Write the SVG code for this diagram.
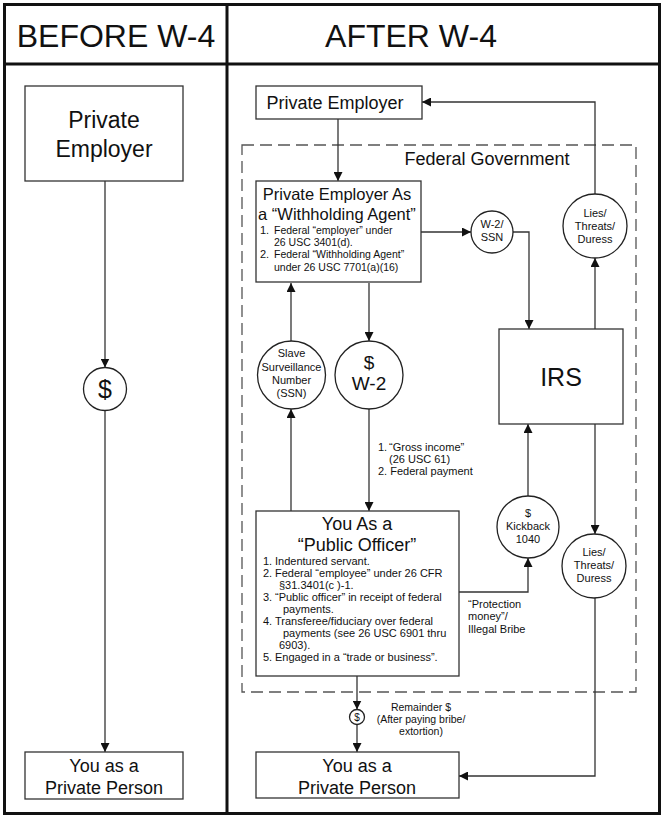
<svg xmlns="http://www.w3.org/2000/svg" width="664" height="819" viewBox="0 0 664 819">
<defs>
<marker id="ah" viewBox="0 0 10 10" refX="10" refY="5" markerWidth="9" markerHeight="9" markerUnits="userSpaceOnUse" orient="auto">
<path d="M0,0 L10,5 L0,10 z" fill="#111"/>
</marker>
</defs>
<style>
text{font-family:"Liberation Sans",Arial,sans-serif;fill:#111}
.hdr{font-size:32px;text-anchor:middle}
.big{font-size:23px;text-anchor:middle}
.t18{font-size:18px;text-anchor:middle}
.t17{font-size:16.5px;text-anchor:middle}
.sm{font-size:11px}
.smc{font-size:11px;text-anchor:middle}
.box{fill:#fff;stroke:#333;stroke-width:1.3}
.cir{fill:#fff;stroke:#222;stroke-width:1.3}
.ln{fill:none;stroke:#333;stroke-width:1.3}
.arr{fill:none;stroke:#333;stroke-width:1.3;marker-end:url(#ah)}
.frame{fill:none;stroke:#111;stroke-width:3}
.dash{fill:none;stroke:#555;stroke-width:1.3;stroke-dasharray:12 6}
</style>
<rect width="664" height="819" fill="#fff"/>
<g id="frame">
<rect class="frame" x="4.5" y="4.5" width="655" height="809"/>
<line class="frame" x1="4" y1="64" x2="660" y2="64"/>
<line class="frame" x1="227" y1="4" x2="227" y2="814"/>
<text class="hdr" x="116" y="47">BEFORE W-4</text>
<text class="hdr" x="411" y="47">AFTER W-4</text>
</g>
<g id="federal-government">
<rect class="dash" x="242" y="145" width="394" height="547"/>
<text class="t18" x="487" y="165">Federal Government</text>
</g>
<g id="connectors">
<line class="ln" x1="105" y1="181" x2="105" y2="358"/>
<line class="arr" x1="105" y1="358" x2="105" y2="367.5"/>
<line class="arr" x1="105" y1="410.5" x2="105" y2="752"/>
<line class="arr" x1="338" y1="119" x2="338" y2="181"/>
<polyline class="arr" points="595,194 595,102 422,102"/>
<line class="arr" x1="421" y1="232" x2="471" y2="232"/>
<polyline class="arr" points="513,232 529,232 529,329"/>
<line class="arr" x1="595" y1="329" x2="595" y2="258"/>
<line class="arr" x1="291" y1="341" x2="291" y2="283"/>
<line class="arr" x1="291" y1="511" x2="291" y2="409"/>
<line class="arr" x1="369" y1="283" x2="369" y2="341"/>
<line class="arr" x1="369" y1="409" x2="369" y2="511"/>
<polyline class="arr" points="459,592 528,592 528,558"/>
<line class="arr" x1="528" y1="496" x2="528" y2="424"/>
<line class="arr" x1="595" y1="424" x2="595" y2="534"/>
<polyline class="arr" points="595,598 595,776 459,776"/>
<line class="arr" x1="357" y1="676" x2="357" y2="709.5"/>
<line class="arr" x1="357" y1="724.5" x2="357" y2="752"/>
</g>
<g id="before-private-employer">
<rect class="box" x="25" y="86" width="158" height="95"/>
<text class="big" x="104" y="128">Private</text>
<text class="big" x="104" y="157">Employer</text>
</g>
<g id="before-dollar">
<circle class="cir" cx="105" cy="389" r="21.5"/>
<text class="big" x="105" y="398" style="font-size:25px">$</text>
</g>
<g id="before-private-person">
<rect class="box" x="25" y="752" width="158" height="47"/>
<text class="t18" x="104" y="772">You as a</text>
<text class="t18" x="104" y="794">Private Person</text>
</g>
<g id="after-private-employer">
<rect class="box" x="256" y="86" width="166" height="33"/>
<text class="t18" x="335" y="109">Private Employer</text>
</g>
<g id="withholding-agent">
<rect class="box" x="256" y="181" width="165" height="101"/>
<text class="t17" x="337" y="200">Private Employer As</text>
<text class="t17" x="337" y="220">a “Withholding Agent”</text>
<text class="sm" x="260" y="234">1.</text>
<text class="sm" x="274" y="234" style="font-size:10.5px">Federal “employer” under</text>
<text class="sm" x="274" y="246" style="font-size:10.5px">26 USC 3401(d).</text>
<text class="sm" x="260" y="258">2.</text>
<text class="sm" x="274" y="258" style="font-size:10.5px">Federal “Withholding Agent”</text>
<text class="sm" x="274" y="271" style="font-size:10.5px">under 26 USC 7701(a)(16)</text>
</g>
<g id="w2-ssn">
<circle class="cir" cx="492" cy="232" r="21"/>
<text class="smc" x="492" y="228">W-2/</text>
<text class="smc" x="492" y="241">SSN</text>
</g>
<g id="lies-upper">
<circle class="cir" cx="595" cy="226" r="32"/>
<text class="smc" x="595" y="217">Lies/</text>
<text class="smc" x="595" y="230">Threats/</text>
<text class="smc" x="595" y="243">Duress</text>
</g>
<g id="irs">
<rect class="box" x="499" y="329" width="124" height="95"/>
<text class="big" x="561" y="386" style="font-size:25px">IRS</text>
</g>
<g id="ssn">
<circle class="cir" cx="291.5" cy="375" r="34"/>
<text class="smc" x="291.5" y="357">Slave</text>
<text class="smc" x="291.5" y="371">Surveillance</text>
<text class="smc" x="291.5" y="384">Number</text>
<text class="smc" x="291.5" y="397">(SSN)</text>
</g>
<g id="w2">
<circle class="cir" cx="369" cy="375" r="34"/>
<text class="t18" x="369" y="369" style="font-size:19px">$</text>
<text class="t18" x="369" y="390" style="font-size:19px">W-2</text>
</g>
<g id="gross-income-label">
<text class="sm" x="378" y="451">1.</text>
<text class="sm" x="389" y="451">“Gross income”</text>
<text class="sm" x="389" y="463">(26 USC 61)</text>
<text class="sm" x="378" y="475">2. Federal payment</text>
</g>
<g id="public-officer">
<rect class="box" x="256" y="511" width="203" height="165"/>
<text class="t18" x="357" y="530">You As a</text>
<text class="t18" x="357" y="551">“Public Officer”</text>
<text class="sm" x="263" y="565">1.</text><text class="sm" x="275" y="565">Indentured servant.</text>
<text class="sm" x="263" y="577">2.</text><text class="sm" x="275" y="577">Federal “employee” under 26 CFR</text>
<text class="sm" x="279" y="589">§31.3401(c )-1.</text>
<text class="sm" x="263" y="601">3.</text><text class="sm" x="275" y="601">“Public officer” in receipt of federal</text>
<text class="sm" x="283" y="613">payments.</text>
<text class="sm" x="263" y="625">4.</text><text class="sm" x="275" y="625">Transferee/fiduciary over federal</text>
<text class="sm" x="283" y="637">payments (see 26 USC 6901 thru</text>
<text class="sm" x="279" y="649">6903).</text>
<text class="sm" x="263" y="661">5.</text><text class="sm" x="275" y="661">Engaged in a “trade or business”.</text>
</g>
<g id="kickback">
<circle class="cir" cx="528" cy="527" r="31"/>
<text class="smc" x="528" y="517">$</text>
<text class="smc" x="528" y="530">Kickback</text>
<text class="smc" x="528" y="543">1040</text>
</g>
<g id="protection-label">
<text class="sm" x="468" y="608">“Protection</text>
<text class="sm" x="468" y="620">money”/</text>
<text class="sm" x="468" y="633">Illegal Bribe</text>
</g>
<g id="lies-lower">
<circle class="cir" cx="594" cy="566" r="32"/>
<text class="smc" x="594" y="556">Lies/</text>
<text class="smc" x="594" y="569">Threats/</text>
<text class="smc" x="594" y="582">Duress</text>
</g>
<g id="small-dollar">
<circle class="cir" cx="357" cy="717" r="7.5"/>
<text class="smc" x="357" y="721" style="font-size:10px">$</text>
</g>
<g id="remainder-label">
<text class="smc" x="421" y="711" style="font-size:10.5px">Remainder $</text>
<text class="smc" x="421" y="723" style="font-size:10.5px">(After paying bribe/</text>
<text class="smc" x="421" y="735" style="font-size:10.5px">extortion)</text>
</g>
<g id="after-private-person">
<rect class="box" x="256" y="752" width="203" height="46"/>
<text class="t18" x="357" y="772">You as a</text>
<text class="t18" x="357" y="794">Private Person</text>
</g>
</svg>
